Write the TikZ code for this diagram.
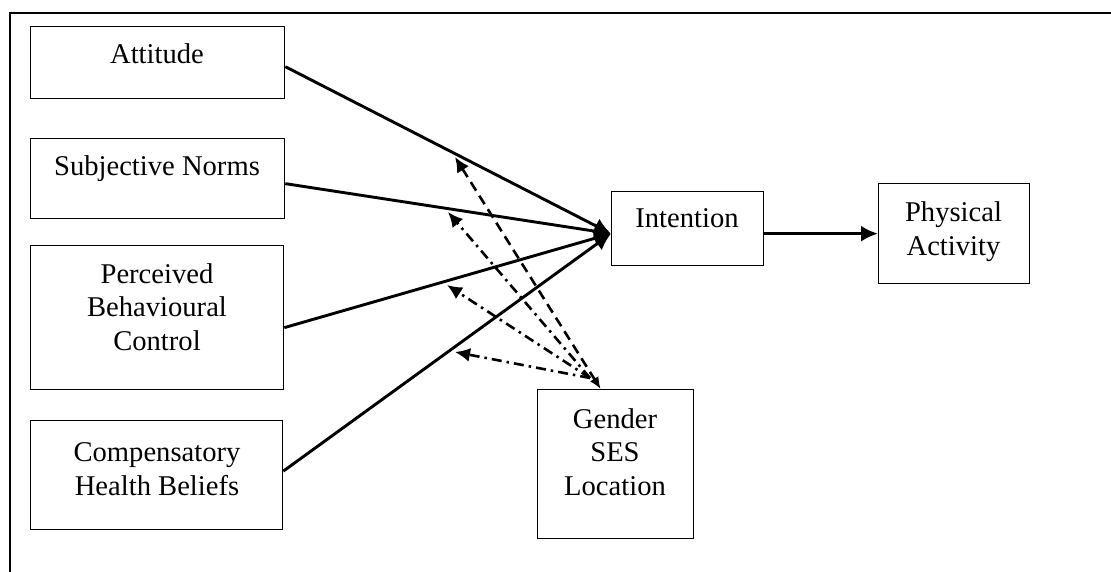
\documentclass[tikz,border=0pt]{standalone}
\usepackage{fontspec}
\setmainfont{Liberation Serif}
\usetikzlibrary{arrows.meta}
\begin{document}
\begin{tikzpicture}[x=1pt,y=-1pt,
  box/.style={draw, line width=1.3pt, inner sep=0pt, anchor=north west},
  txt/.style={inner sep=0pt, align=center, anchor=base, font=\fontsize{28.6}{33.5}\selectfont},
  path/.style={line width=2.9pt, -{Latex[length=17pt,width=16pt]}},
  mod/.style={line width=2.6pt, dash pattern=on 10pt off 6pt},
  moddot/.style={line width=2.6pt, dash pattern=on 10pt off 5pt on 2.5pt off 5pt, -{Latex[length=15pt,width=14pt]}}]
\useasboundingbox (0,0) rectangle (1111,572);
% frame
\draw[line width=2.8pt] (10,572) -- (10,13) -- (1111,13);
% boxes
\node[box, minimum width=254pt, minimum height=72pt] (att) at (30,26) {};
\node[box, minimum width=254pt, minimum height=80pt] (sub) at (30,138) {};
\node[box, minimum width=253pt, minimum height=144pt] (pbc) at (30,245) {};
\node[box, minimum width=252pt, minimum height=109pt] (chb) at (30,420) {};
\node[box, minimum width=152pt, minimum height=74pt] (int) at (611,191) {};
\node[box, minimum width=151pt, minimum height=100pt] (pa) at (878,183) {};
\node[box, minimum width=156pt, minimum height=149pt] (gen) at (537,389) {};
% texts (base anchor = last line)
\node[txt] (att-t) at (157,64) {Attitude};
\node[txt] (sub-t) at (157,176) {Subjective Norms};
\node[txt] (pbc-t) at (157,350) {Perceived\\Behavioural\\Control};
\node[txt] (chb-t) at (157,495) {Compensatory\\Health Beliefs};
\node[txt] (int-t) at (687,228) {Intention};
\node[txt] (pa-t) at (953.5,255) {Physical\\Activity};
\node[txt] (gen-t) at (615,495) {Gender\\SES\\Location};
% connector points
\coordinate (ii) at ([yshift=-5pt]int.west);
\coordinate (g) at (590,378);
\coordinate (gtop) at ([xshift=-15pt]gen.north);
\coordinate (m1) at (455,157);
\coordinate (m2) at (448,212);
\coordinate (m3) at (447,285);
\coordinate (m4) at (455,352);
% solid paths
\draw[path] ([yshift=-4pt]att.east) -- (ii);
\draw[path] ([yshift=-5pt]sub.east) -- (ii);
\draw[path] ([yshift=-10pt]pbc.east) -- (ii);
\draw[path] ([yshift=4pt]chb.east) -- (ii);
\draw[path] (int.east |- pa.west) -- (pa.west);
% moderators
\draw[mod, {Latex[length=15pt,width=14pt]}-{Latex[length=12pt,width=10pt]}] (m1) -- (gtop);
\draw[moddot] (g) -- (m2);
\draw[moddot] (g) -- (m3);
\draw[moddot] (g) -- (m4);
\end{tikzpicture}
\end{document}
